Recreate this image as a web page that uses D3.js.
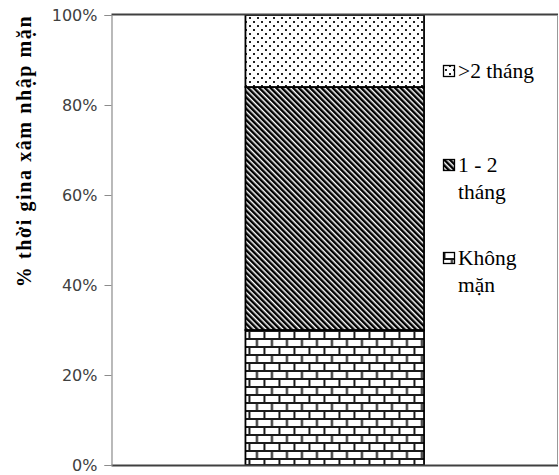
<!DOCTYPE html>
<html><head><meta charset="utf-8">
<script src="https://cdn.jsdelivr.net/npm/d3@7"></script>
<style>body{margin:0;background:#fff}svg{display:block}</style>
</head><body>
<svg id="c" width="559" height="475"></svg>
<script>
const categories = [""];
const seriesNames = ["Không mặn", "1 - 2 tháng", ">2 tháng"];
const seriesValues = [0.30, 0.54, 0.16];
const legendLines = [[">2 tháng"], ["1 - 2", "tháng"], ["Không", "mặn"]];
const tickValues = [0, 0.2, 0.4, 0.6, 0.8, 1.0];
const yTitle = "% thời gina xâm nhập mặn";

const SERIF = "Liberation Serif";
const svg = d3.select("#c");
const L = 111.5, R = 558, T = 15, B = 465;
const y = d3.scaleLinear().domain([0, 1]).range([B, T]);
const x = d3.scaleBand().domain(categories).range([L, R]).paddingInner(0).paddingOuter(0.75);

const defs = svg.append("defs");
// dots
const pd = defs.append("pattern").attr("id", "pDots").attr("patternUnits", "userSpaceOnUse").attr("width", 8).attr("height", 8);
pd.append("rect").attr("width", 8).attr("height", 8).attr("fill", "#fff");
pd.append("rect").attr("x", 1).attr("y", 1).attr("width", 2).attr("height", 2).attr("fill", "#222");
pd.append("rect").attr("x", 5).attr("y", 5).attr("width", 2).attr("height", 2).attr("fill", "#222");
// diagonal stripes "\"
const ps = defs.append("pattern").attr("id", "pDiag").attr("patternUnits", "userSpaceOnUse").attr("width", 4).attr("height", 4).attr("patternTransform", "rotate(-45)");
ps.append("rect").attr("width", 4).attr("height", 4).attr("fill", "#fff");
ps.append("rect").attr("width", 2.5).attr("height", 4).attr("fill", "#000");
// bricks
const pb = defs.append("pattern").attr("id", "pBrick").attr("patternUnits", "userSpaceOnUse").attr("width", 15).attr("height", 16).attr("x", x("")).attr("y", y(0.30));
pb.append("rect").attr("width", 15).attr("height", 16).attr("fill", "#fff");
pb.append("rect").attr("x", 0).attr("y", 0).attr("width", 15).attr("height", 2).attr("fill", "#1a1a1a");
pb.append("rect").attr("x", 0).attr("y", 8).attr("width", 15).attr("height", 2).attr("fill", "#1a1a1a");
pb.append("rect").attr("x", 3).attr("y", 0).attr("width", 2).attr("height", 8).attr("fill", "#1a1a1a");
pb.append("rect").attr("x", 10.5).attr("y", 8).attr("width", 2).attr("height", 8).attr("fill", "#1a1a1a");
const fills = ["url(#pBrick)", "url(#pDiag)", "url(#pDots)"];

// stacked
let acc = 0;
const segs = seriesValues.map((v, i) => { const s = {i, y0: acc, y1: acc + v}; acc += v; return s; });
svg.append("g").selectAll("rect").data(segs).join("rect")
  .attr("x", x("")).attr("width", x.bandwidth())
  .attr("y", d => y(d.y1)).attr("height", d => y(d.y0) - y(d.y1))
  .attr("fill", d => fills[d.i]).attr("stroke", "#000").attr("stroke-width", 1.8);

// frame
svg.append("line").attr("x1", L).attr("x2", R).attr("y1", T - 0.5).attr("y2", T - 0.5).attr("stroke", "#404040").attr("stroke-width", 2);
svg.append("line").attr("x1", L).attr("x2", R).attr("y1", B + 0.5).attr("y2", B + 0.5).attr("stroke", "#404040").attr("stroke-width", 2);
svg.append("line").attr("x1", R - 0.5).attr("x2", R - 0.5).attr("y1", T).attr("y2", B).attr("stroke", "#999").attr("stroke-width", 1);

// y axis
const ya = svg.append("g").attr("transform", `translate(${L},0)`)
  .call(d3.axisLeft(y).tickValues(tickValues).tickFormat(d3.format(".0%")).tickSizeOuter(0).tickSize(7).tickPadding(7));
ya.select(".domain").attr("stroke", "#8c8c8c").attr("stroke-width", 1.2);
ya.selectAll(".tick line").attr("stroke", "#8c8c8c");
ya.selectAll("text").style("font-family", "DejaVu Sans").style("font-size", "16px").attr("fill", "#404040");

// y title
svg.append("text").attr("transform", `translate(31,151) rotate(-90)`).attr("text-anchor", "middle")
  .style("font-family", SERIF).style("font-weight", "bold").style("font-size", "20px")
  .style("letter-spacing", "1.6px").attr("fill", "#000").text(yTitle);

// legend
const legBase = [78, 172, 265];
const legFill = [fills[2], fills[1], fills[0]];
const lg = svg.append("g");
legendLines.forEach((lines, i) => {
  lg.append("rect").attr("x", 443.5).attr("y", legBase[i] - 12.5).attr("width", 11).attr("height", 11)
    .attr("fill", legFill[i]).attr("stroke", "#000").attr("stroke-width", 1.3);
  const t = lg.append("text").attr("x", 458).attr("y", legBase[i])
    .style("font-family", SERIF).style("font-size", "21.5px").attr("fill", "#000");
  lines.forEach((ln, j) => t.append("tspan").attr("x", 458).attr("dy", j ? 26.5 : 0).text(ln));
});
</script>
</body></html>
